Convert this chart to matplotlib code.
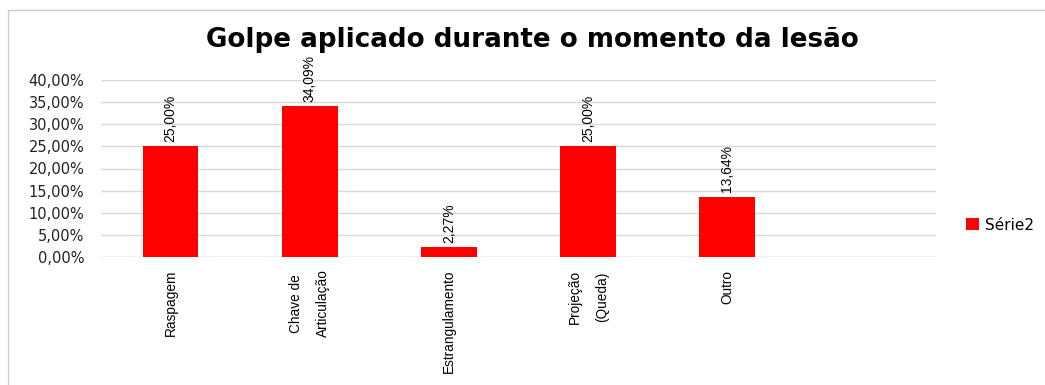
import numpy as np
import matplotlib
matplotlib.use("Agg")
import matplotlib.pyplot as plt
from matplotlib.patches import Rectangle

categorias = ["Raspagem", "Chave de\nArticulação", "Estrangulamento",
              "Projeção\n(Queda)", "Outro"]
valores = [25.00, 34.09, 2.27, 25.00, 13.64]
yticks = [0, 5, 10, 15, 20, 25, 30, 35, 40]

def pct(v):
    return ("%.2f%%" % v).replace(".", ",")

fig = plt.figure(figsize=(10.45, 3.85), dpi=100)
ax = fig.add_axes([101/1045, 1-257/385, 835/1045, 177/385])

x = np.arange(len(categorias))
bars = ax.bar(x, valores, width=0.4, color="#ff0000", label="Série2", zorder=3)

# one empty slot on the right, like the original
ax.set_xlim(-0.5, len(categorias) + 0.5)
ax.set_ylim(0, 40)
ax.set_yticks(yticks)
ax.set_yticklabels([pct(v) for v in yticks], fontsize=10.5, color="#222222",
                   family="DejaVu Sans")
ax.yaxis.grid(True, color="#d9d9d9", lw=1)
ax.set_axisbelow(True)
ax.tick_params(length=0)
ax.tick_params(axis="y", pad=12)
for s in ax.spines.values():
    s.set_visible(False)
ax.axhline(0, color="#d9d9d9", lw=1)

ax.set_xticks(x)
ax.set_xticklabels(categorias, rotation=90, fontsize=9.8, family="Liberation Sans",
                   linespacing=2.2, va="top", ha="center")
ax.tick_params(axis="x", pad=9)

for b, v in zip(bars, valores):
    ax.text(b.get_x() + b.get_width()/2, v + 1, pct(v), rotation=90,
            ha="center", va="bottom", fontsize=10, family="Liberation Sans")

fig.text(532/1045, 1-40/385, "Golpe aplicado durante o momento da lesão",
         ha="center", va="center", fontsize=18.8, fontweight="bold",
         family="DejaVu Sans")

ax.legend(loc="center left", bbox_to_anchor=(1.02, 0.18), frameon=False,
          handlelength=0.8, handleheight=0.8, handletextpad=0.4,
          prop={"family": "DejaVu Sans", "size": 11})

# frame of the pasted chart
fig.add_artist(Rectangle((8/1045, -0.1), 1.1, 1-10/385 + 0.1, transform=fig.transFigure,
                         fill=False, edgecolor="#cccccc", lw=1))

fig.savefig("out.png", dpi=100)
